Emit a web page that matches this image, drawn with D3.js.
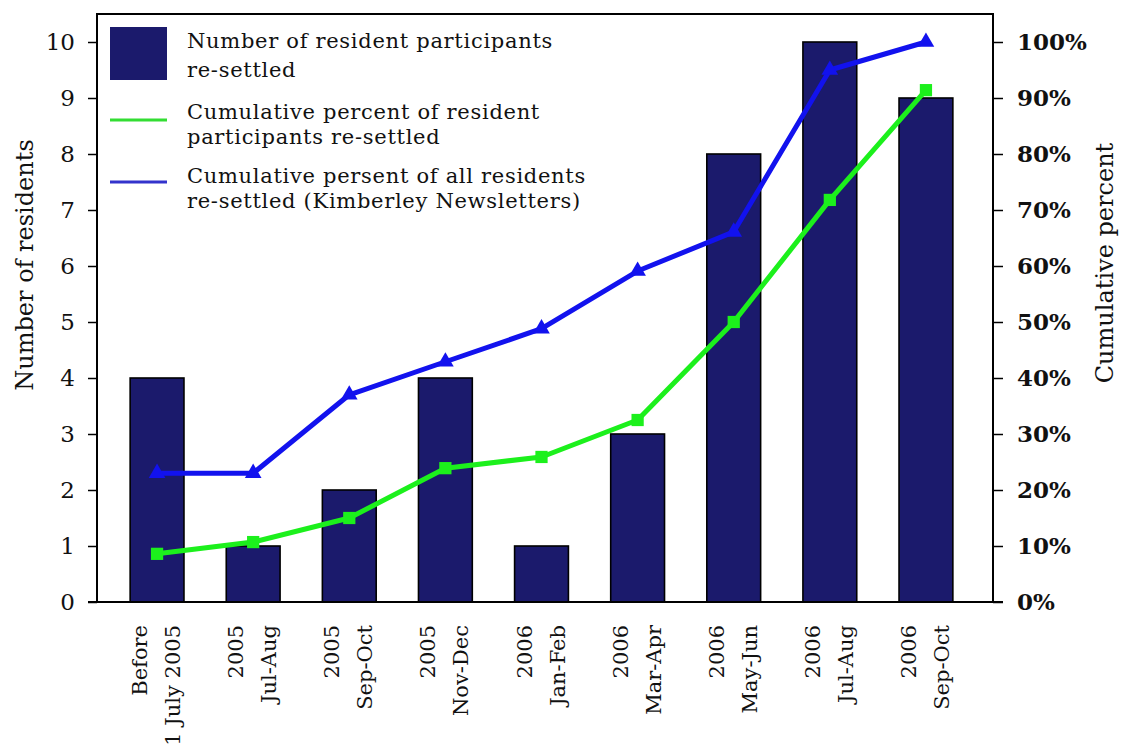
<!DOCTYPE html>
<html>
<head>
<meta charset="utf-8">
<script src="https://cdn.jsdelivr.net/npm/d3@7"></script>
<style>
  html, body { margin: 0; padding: 0; background: #fff; }
  svg { display: block; }
  text { font-family: "DejaVu Serif", "Liberation Serif", serif; fill: #111; }
</style>
</head>
<body>
<svg id="chart" width="1121" height="745"></svg>
<script>
// ---- data ----
const categoriesLine1 = ["Before", "2005", "2005", "2005", "2006", "2006", "2006", "2006", "2006"];
const categoriesLine2 = ["1 July 2005", "Jul-Aug", "Sep-Oct", "Nov-Dec", "Jan-Feb", "Mar-Apr", "May-Jun", "Jul-Aug", "Sep-Oct"];
const residentsResettled = [4, 1, 2, 4, 1, 3, 8, 10, 9];
const cumPctParticipants = [8.6, 10.7, 15.0, 23.9, 25.9, 32.5, 50.0, 71.8, 91.4];
const cumPctAllResidents = [23.0, 23.0, 37.0, 42.9, 48.8, 59.1, 66.1, 95.0, 100.0];
const leftTicks = [0, 1, 2, 3, 4, 5, 6, 7, 8, 9, 10];
const rightTicks = [0, 10, 20, 30, 40, 50, 60, 70, 80, 90, 100];
const legendLabels = [
  ["Number of resident participants", "re-settled"],
  ["Cumulative percent of resident", "participants re-settled"],
  ["Cumulative persent of all residents", "re-settled (Kimberley Newsletters)"]
];
const leftTitle = "Number of residents";
const rightTitle = "Cumulative percent";

// ---- layout ----
const L = 97, R = 993, T = 14, B = 602;
const svg = d3.select("#chart");

const idx = d3.range(categoriesLine1.length);
const x = d3.scaleBand().domain(idx).range([109, 974]).paddingInner(0.44).paddingOuter(0.22);
const y = d3.scaleLinear().domain([0, 10.5]).range([B, T]);
const yp = d3.scaleLinear().domain([0, 105]).range([B, T]);
const cx = i => x(i) + x.bandwidth() / 2;

// bars
svg.append("g").selectAll("rect").data(residentsResettled).join("rect")
  .attr("x", (d, i) => x(i))
  .attr("y", d => y(d))
  .attr("width", x.bandwidth())
  .attr("height", d => y(0) - y(d))
  .attr("fill", "#1b1a6c")
  .attr("stroke", "#000")
  .attr("stroke-width", 1.6);

// lines
const lineGen = d3.line().x((d, i) => cx(i)).y(d => yp(d));
svg.append("path").datum(cumPctAllResidents)
  .attr("d", lineGen).attr("fill", "none").attr("stroke", "#1212ee").attr("stroke-width", 5)
  .attr("stroke-linejoin", "round");
svg.append("g").selectAll("path").data(cumPctAllResidents).join("path")
  .attr("transform", (d, i) => `translate(${cx(i)},${yp(d)})`)
  .attr("d", d3.symbol(d3.symbolTriangle, 120)())
  .attr("fill", "#1212ee");

svg.append("path").datum(cumPctParticipants)
  .attr("d", lineGen).attr("fill", "none").attr("stroke", "#1cf01c").attr("stroke-width", 5)
  .attr("stroke-linejoin", "round");
svg.append("g").selectAll("path").data(cumPctParticipants).join("path")
  .attr("transform", (d, i) => `translate(${cx(i)},${yp(d)})`)
  .attr("d", d3.symbol(d3.symbolSquare, 150)())
  .attr("fill", "#1cf01c");

// frame
svg.append("rect").attr("x", L).attr("y", T).attr("width", R - L).attr("height", B - T)
  .attr("fill", "none").attr("stroke", "#000").attr("stroke-width", 2);

// axes
const ax = svg.append("g").attr("transform", `translate(${L},0)`)
  .call(d3.axisLeft(y).tickValues(leftTicks).tickSize(9).tickPadding(13).tickFormat(d3.format("d")));
ax.select(".domain").remove();
ax.selectAll("text").attr("font-size", 23).attr("font-family", "DejaVu Serif").attr("fill", "#111");
ax.selectAll("line").attr("stroke", "#000").attr("stroke-width", 1.5);

const ar = svg.append("g").attr("transform", `translate(${R},0)`)
  .call(d3.axisRight(yp).tickValues(rightTicks).tickSize(10).tickPadding(14).tickFormat(d => d + "%"));
ar.select(".domain").remove();
ar.selectAll("text").attr("font-size", 23).attr("font-family", "DejaVu Serif").attr("font-weight", "bold").attr("fill", "#111");
ar.selectAll("line").attr("stroke", "#000").attr("stroke-width", 1.5);

// bottom baseline extends
svg.append("line").attr("x1", 88).attr("x2", 1003).attr("y1", B).attr("y2", B)
  .attr("stroke", "#000").attr("stroke-width", 2);

// x labels
const xl = svg.append("g").selectAll("g").data(idx).join("g")
  .attr("transform", i => `translate(${cx(i)},625) rotate(-90)`);
xl.append("text").attr("text-anchor", "end").attr("y", -10).attr("font-size", 21)
  .text(i => categoriesLine1[i]);
xl.append("text").attr("text-anchor", "end").attr("y", 23).attr("font-size", 21)
  .text(i => categoriesLine2[i]);

// axis titles
svg.append("text").attr("transform", "translate(33,265) rotate(-90)")
  .attr("text-anchor", "middle").attr("font-size", 24).text(leftTitle);
svg.append("text").attr("transform", "translate(1113,263) rotate(-90)")
  .attr("text-anchor", "middle").attr("font-size", 24).attr("fill", "#444").text(rightTitle);

// legend
const lg = svg.append("g");
lg.append("rect").attr("x", 110).attr("y", 27).attr("width", 57).attr("height", 53).attr("fill", "#1b1a6c");
lg.append("line").attr("x1", 110).attr("x2", 167).attr("y1", 120).attr("y2", 120)
  .attr("stroke", "#33dd33").attr("stroke-width", 3);
lg.append("line").attr("x1", 110).attr("x2", 167).attr("y1", 182).attr("y2", 182)
  .attr("stroke", "#3333cc").attr("stroke-width", 3);
const legendBaselines = [[48, 77], [119, 144], [183, 208]];
legendLabels.forEach((lines, k) => {
  lines.forEach((t, j) => {
    lg.append("text").attr("x", 187).attr("y", legendBaselines[k][j])
      .attr("font-size", 21).attr("letter-spacing", 0.7).text(t);
  });
});
</script>
</body>
</html>
